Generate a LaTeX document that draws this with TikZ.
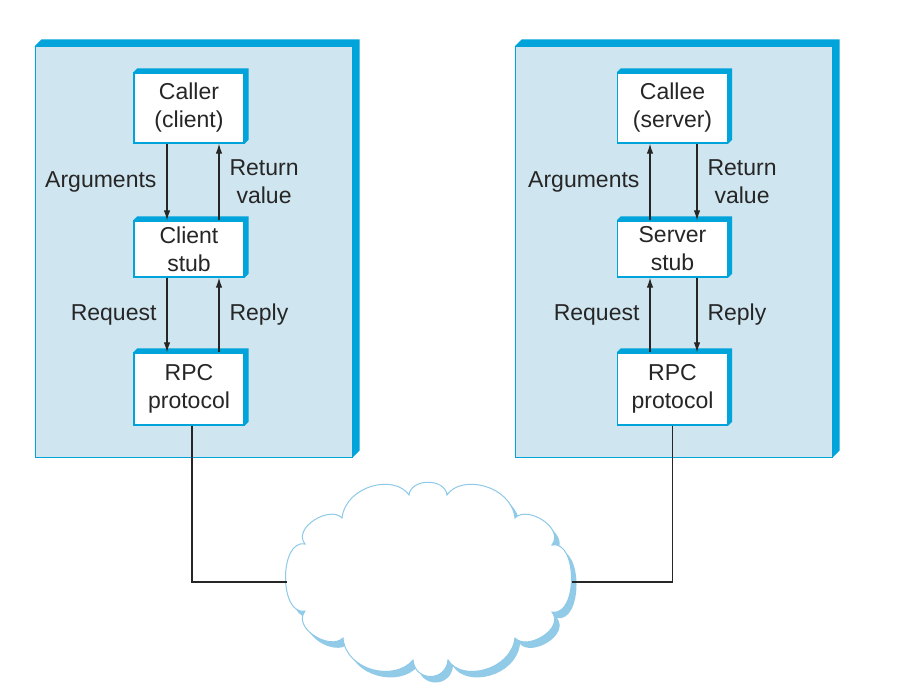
\documentclass[tikz,border=0pt]{standalone}
\usepackage{fontspec}
\setmainfont{Liberation Sans}
\usepackage{tikz}
\usetikzlibrary{arrows.meta,positioning,calc}
\definecolor{RpcFace}{HTML}{CFE5F0}
\definecolor{RpcEdge}{HTML}{00A3DA}
\definecolor{RpcLine}{HTML}{262626}
\definecolor{CloudLine}{HTML}{8DC9E8}
\definecolor{CloudShade}{HTML}{92CBE7}
\newcommand{\rpcfont}{\fontsize{23}{28}\selectfont}
\newcommand{\netcloud}{(305,544)
  .. controls (292,528) and (330,505) .. (342,518)
  .. controls (346,485) and (395,474) .. (409,495)
  .. controls (411,478) and (445,478) .. (447,495)
  .. controls (461,474) and (511,485) .. (515,518)
  .. controls (527,505) and (565,528) .. (552,545)
  .. controls (578,540) and (578,617) .. (552,612)
  .. controls (565,629) and (527,651) .. (515,638)
  .. controls (511,671) and (461,682) .. (448,660)
  .. controls (446,682) and (415,682) .. (413,660)
  .. controls (395,682) and (346,671) .. (343,638)
  .. controls (330,651) and (292,628) .. (305,611)
  .. controls (279,616) and (279,539) .. (305,544) -- cycle}

\tikzset{
  panel/.style={draw=RpcEdge, line width=1pt, fill=RpcFace, inner sep=0pt,
    minimum width=317pt, minimum height=410pt},
  stubbox/.style={draw=RpcEdge, line width=1.4pt, fill=white, inner sep=0pt,
    minimum width=110pt, align=center, font=\rpcfont, text=RpcLine},
  lbl/.style={font=\rpcfont, align=center, inner sep=0pt, text=RpcLine},
  link/.style={draw=RpcLine, line width=1.1pt},
}

\begin{document}
\begin{tikzpicture}[x=1pt,y=-1pt,>={Latex[length=10pt,width=6.5pt]}]
  \useasboundingbox (0,0) rectangle (902,692);
  % client and server machines
  \node[panel] (panelL) at (193.5,252) {};
  \node[panel] (panelR) at (673.5,252) {};

  \node[stubbox,minimum height=70pt] (callerL) at (189,108) {Caller\\(client)};
  \node[stubbox,minimum height=56pt] (stubL) at (189,249) {Client\\stub};
  \node[stubbox,minimum height=72pt] (rpcL) at (189,389) {RPC\\protocol};

  \node[stubbox,minimum height=70pt] (calleeR) at (672.5,108) {Callee\\(server)};
  \node[stubbox,minimum height=56pt] (stubR) at (672.5,249) {Server\\stub};
  \node[stubbox,minimum height=72pt] (rpcR) at (672.5,389) {RPC\\protocol};

  % raised edge on top and right
  \foreach \n/\d in {panelL/7,panelR/7,callerL/4,stubL/4,rpcL/4,calleeR/4,stubR/4,rpcR/4}
    \fill[RpcEdge] (\n.north west) -- ([shift={(\d,-\d)}]\n.north west)
      -- ([shift={(\d,-\d)}]\n.north east) -- ([shift={(\d,-\d)}]\n.south east)
      -- (\n.south east) -- (\n.north east) -- cycle;

  % client side
  \draw[link,->] ([xshift=-22pt]callerL.south) -- node[lbl,midway,left=10pt] {Arguments} ([xshift=-22pt]stubL.north);
  \draw[link,->] ([xshift=30pt]stubL.north) -- node[lbl,midway,right=10pt] {Return\\value} ([xshift=30pt]callerL.south);
  \draw[link,->] ([xshift=-22pt]stubL.south) -- node[lbl,midway,left=10pt] {Request} ([xshift=-22pt]rpcL.north);
  \draw[link,->] ([xshift=30pt]rpcL.north) -- node[lbl,midway,right=10pt] {Reply} ([xshift=30pt]stubL.south);

  % server side
  \draw[link,->] ([xshift=-22.5pt]stubR.north) -- node[lbl,midway,left=10pt] {Arguments} ([xshift=-22.5pt]calleeR.south);
  \draw[link,->] ([xshift=24.5pt]calleeR.south) -- node[lbl,midway,right=10pt] {Return\\value} ([xshift=24.5pt]stubR.north);
  \draw[link,->] ([xshift=-22.5pt]rpcR.north) -- node[lbl,midway,left=10pt] {Request} ([xshift=-22.5pt]stubR.south);
  \draw[link,->] ([xshift=24.5pt]stubR.south) -- node[lbl,midway,right=10pt] {Reply} ([xshift=24.5pt]rpcR.north);

  % network
  \fill[CloudShade,xshift=5pt,yshift=-6pt] \netcloud;
  \filldraw[fill=white,draw=CloudLine,line width=1pt] \netcloud;
  \coordinate (netW) at (287,582);
  \coordinate (netE) at (572,582);
  \draw[link] ([xshift=3pt]rpcL.south) |- (netW);
  \draw[link] (rpcR.south) |- (netE);
\end{tikzpicture}
\end{document}
